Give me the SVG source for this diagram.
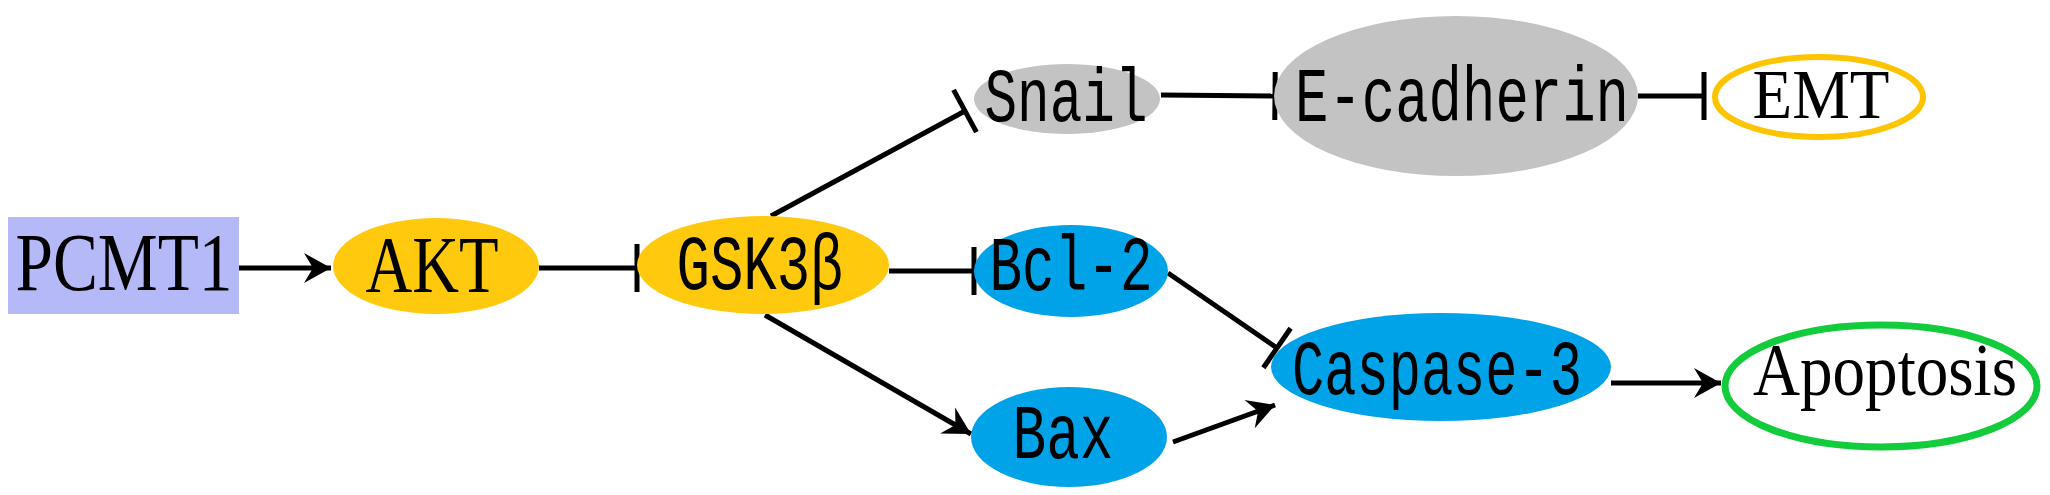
<svg xmlns="http://www.w3.org/2000/svg" width="2050" height="495" viewBox="0 0 2050 495">
<style>
.edge{stroke:#000;stroke-width:5;fill:none}
.serif{font-family:"Liberation Serif","Times New Roman",serif;fill:#000}
.mono{font-family:"Liberation Mono","Courier New",monospace;fill:#000}
</style>
<defs>
<marker id="arrow" markerUnits="userSpaceOnUse" markerWidth="40" markerHeight="40" viewBox="-30 -20 40 40" refX="0" refY="0" orient="auto">
<path d="M0,0 L-27,-15 L-18,0 L-27,15 Z" fill="#000"/>
</marker>
<marker id="bar" markerUnits="userSpaceOnUse" markerWidth="20" markerHeight="60" viewBox="-10 -30 20 60" refX="0" refY="0" orient="auto">
<line x1="0" y1="-24" x2="0" y2="24" stroke="#000" stroke-width="5"/>
</marker>
</defs>
<rect width="2050" height="495" fill="#fff"/>
<g id="connectors">
<line class="edge" x1="239" y1="268" x2="331" y2="268" marker-end="url(#arrow)"/>
<line class="edge" x1="539" y1="268" x2="637" y2="268" marker-end="url(#bar)"/>
<line class="edge" x1="889" y1="271" x2="974" y2="271" marker-end="url(#bar)"/>
<line class="edge" x1="771" y1="216" x2="965" y2="111" marker-end="url(#bar)"/>
<line class="edge" x1="765" y1="315" x2="971" y2="434" marker-end="url(#arrow)"/>
<line class="edge" x1="1168" y1="273" x2="1277" y2="348" marker-end="url(#bar)"/>
<line class="edge" x1="1173" y1="442" x2="1275" y2="405" marker-end="url(#arrow)"/>
<line class="edge" x1="1161" y1="95" x2="1275" y2="96" marker-end="url(#bar)"/>
<line class="edge" x1="1638" y1="96" x2="1704" y2="96" marker-end="url(#bar)"/>
<line class="edge" x1="1611" y1="383" x2="1721" y2="383" marker-end="url(#arrow)"/>
</g>
<g id="PCMT1">
<rect x="8" y="217" width="231" height="97" fill="#b5b9f7"/>
<text class="serif" x="124" y="290" font-size="82" text-anchor="middle" textLength="217" lengthAdjust="spacingAndGlyphs">PCMT1</text>
</g>
<g id="AKT">
<ellipse cx="436" cy="266" rx="103" ry="48" fill="#ffc90e"/>
<text class="serif" x="432" y="292" font-size="80" text-anchor="middle" textLength="133" lengthAdjust="spacingAndGlyphs">AKT</text>
</g>
<g id="GSK3b">
<ellipse cx="763" cy="265" rx="126" ry="49" fill="#ffc90e"/>
<text class="mono" x="760" y="289" font-size="78" text-anchor="middle" textLength="167" lengthAdjust="spacingAndGlyphs">GSK3β</text>
</g>
<g id="Bcl2">
<ellipse cx="1071" cy="271" rx="97" ry="46" fill="#00a2e8"/>
<text class="mono" x="1071" y="290" font-size="78" text-anchor="middle" textLength="163" lengthAdjust="spacingAndGlyphs">Bcl-2</text>
</g>
<g id="Bax">
<ellipse cx="1069" cy="437" rx="98" ry="50" fill="#00a2e8"/>
<text class="mono" x="1063" y="458" font-size="78" text-anchor="middle" textLength="101" lengthAdjust="spacingAndGlyphs">Bax</text>
</g>
<g id="Caspase3">
<ellipse cx="1441" cy="367" rx="170" ry="54" fill="#00a2e8"/>
<text class="mono" x="1437" y="394" font-size="78" text-anchor="middle" textLength="290" lengthAdjust="spacingAndGlyphs">Caspase-3</text>
</g>
<g id="Apoptosis">
<ellipse cx="1881" cy="386" rx="156" ry="61" fill="#fff" stroke="#13cc3c" stroke-width="7"/>
<text class="serif" x="1885" y="395" font-size="74" text-anchor="middle" textLength="264" lengthAdjust="spacingAndGlyphs">Apoptosis</text>
</g>
<g id="Snail">
<ellipse cx="1067" cy="99" rx="93" ry="35" fill="#c3c3c3"/>
<text class="mono" x="1066" y="121" font-size="76" text-anchor="middle" textLength="163" lengthAdjust="spacingAndGlyphs">Snail</text>
</g>
<g id="Ecadherin">
<ellipse cx="1456" cy="96" rx="182" ry="80" fill="#c3c3c3"/>
<text class="mono" x="1462" y="121" font-size="78" text-anchor="middle" textLength="334" lengthAdjust="spacingAndGlyphs">E-cadherin</text>
</g>
<g id="EMT">
<ellipse cx="1819" cy="97" rx="104" ry="40" fill="#fff" stroke="#ffc400" stroke-width="6"/>
<text class="serif" x="1821" y="118" font-size="70" text-anchor="middle" textLength="137" lengthAdjust="spacingAndGlyphs">EMT</text>
</g>
</svg>
